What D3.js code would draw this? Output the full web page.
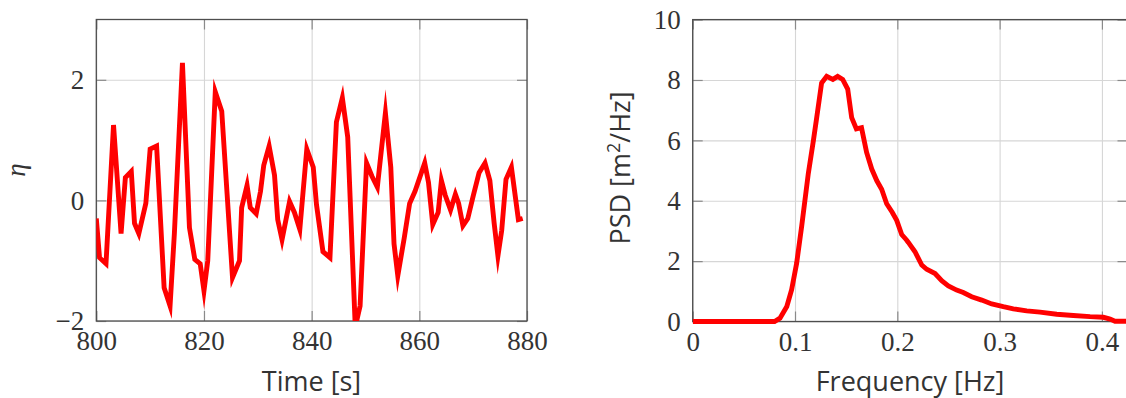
<!DOCTYPE html>
<html>
<head>
<meta charset="utf-8">
<script src="https://cdn.jsdelivr.net/npm/d3@7"></script>
<style>
  body { margin: 0; background: #fff; }
  svg { display: block; }
  .tick text { font-family: "Liberation Serif", "DejaVu Serif", serif; font-size: 27px; fill: #333; }
  .ticks .tick line { stroke: #8a8a8a; stroke-width: 1.2px; }
  .grid .tick line { stroke: #d6d6d6; stroke-width: 1.1px; }
  .grid path, .ticks path { display: none; }
  .label { font-family: "Open Sans", "Noto Sans", sans-serif; font-size: 27px; fill: #333; }
</style>
</head>
<body>
<svg id="chart" width="1126" height="398"></svg>
<script>
// Surface elevation record (time in s, elevation eta)
const timeS = [
  800.0, 800.6, 801.8, 803.2, 804.6, 805.4, 806.5, 807.1, 807.9, 809.2,
  810.0, 811.2, 812.6, 813.7, 814.5, 816.0, 817.3, 818.3, 819.3, 820.0,
  820.7, 822.1, 823.3, 824.3, 825.3, 826.6, 827.0, 828.0, 828.6, 829.7,
  830.5, 831.1, 832.1, 833.1, 833.7, 834.5, 835.9, 836.8, 837.8, 839.1,
  840.3, 840.9, 842.1, 843.4, 844.6, 845.7, 846.7, 848.1, 849.0, 850.2,
  851.2, 852.2, 853.7, 854.7, 855.3, 856.0, 857.2, 858.2, 859.2, 861.0,
  861.7, 862.5, 863.5, 864.1, 864.8, 865.8, 866.7, 867.3, 868.1, 869.0,
  870.0, 871.1, 872.2, 873.1, 873.9, 874.6, 875.3, 876.1, 877.1, 878.4,
  879.2
];
const eta = [
  -0.30, -0.95, -1.05, 1.25, -0.55, 0.38, 0.48, -0.38, -0.55, -0.05,
  0.85, 0.90, -1.45, -1.75, -0.55, 2.28, -0.45, -0.98, -1.05, -1.50,
  -1.00, 1.80, 1.48, 0.10, -1.28, -1.00, -0.12, 0.25, -0.12, -0.22,
  0.15, 0.58, 0.90, 0.42, -0.32, -0.65, -0.02, -0.20, -0.48, 0.85,
  0.55, -0.07, -0.85, -0.95, 1.30, 1.70, 1.05, -2.10, -1.75, 0.62,
  0.40, 0.22, 1.45, 0.55, -0.72, -1.25, -0.62, -0.05, 0.15, 0.62,
  0.30, -0.40, -0.20, 0.33, 0.09, -0.16, 0.10, -0.05, -0.42, -0.30,
  0.07, 0.46, 0.62, 0.33, -0.38, -0.92, -0.50, 0.35, 0.55, -0.32,
  -0.30
];

// Power spectral density (frequency in Hz, PSD in m^2/Hz)
const freqHz = [
  0, 0.080, 0.0853, 0.092, 0.0967, 0.1016, 0.1065, 0.113, 0.118, 0.121,
  0.126, 0.131, 0.137, 0.1417, 0.1466, 0.1515, 0.1554, 0.160, 0.165, 0.170,
  0.175, 0.180, 0.1847, 0.1896, 0.195, 0.1994, 0.2043, 0.209, 0.2108, 0.2173,
  0.2239, 0.2287, 0.2369, 0.2434, 0.2499, 0.258, 0.2645, 0.2727, 0.2825, 0.2923,
  0.3036, 0.3134, 0.3265, 0.3395, 0.3558, 0.372, 0.3884, 0.4014, 0.408, 0.4128,
  0.44
];
const psd = [
  0, 0, 0.11, 0.50, 1.05, 1.93, 3.15, 4.90, 6.00, 6.70,
  7.90, 8.12, 8.02, 8.12, 8.02, 7.70, 6.75, 6.38, 6.42, 5.60,
  5.05, 4.66, 4.38, 3.90, 3.62, 3.35, 2.88, 2.70, 2.62, 2.31,
  1.87, 1.73, 1.59, 1.35, 1.18, 1.04, 0.96, 0.82, 0.71, 0.58,
  0.49, 0.42, 0.35, 0.31, 0.24, 0.20, 0.16, 0.14, 0.08, 0.01,
  0
];

const timeTicks = [800, 820, 840, 860, 880];
const etaTicks = [-2, 0, 2];
const freqTicks = [0, 0.1, 0.2, 0.3, 0.4];
const psdTicks = [0, 2, 4, 6, 8, 10];

const svg = d3.select("#chart");

function panel(o) {
  const x = d3.scaleLinear().domain(o.xDomain).range([o.x0, o.x1]);
  const y = d3.scaleLinear().domain(o.yDomain).range([o.y1, o.y0]);
  const w = o.x1 - o.x0, h = o.y1 - o.y0;
  const g = svg.append("g");

  // grid
  g.append("g").attr("class", "grid").attr("transform", `translate(0,${o.y1})`)
    .call(d3.axisBottom(x).tickValues(o.xTicks).tickSize(-h).tickFormat(""));
  g.append("g").attr("class", "grid").attr("transform", `translate(${o.x0},0)`)
    .call(d3.axisLeft(y).tickValues(o.yTicks).tickSize(-w).tickFormat(""));

  // inward ticks on all four sides
  g.append("g").attr("class", "ticks").attr("transform", `translate(0,${o.y1})`)
    .call(d3.axisBottom(x).tickValues(o.xTicks).tickSizeInner(-10).tickSizeOuter(0)
      .tickPadding(10).tickFormat(o.xFmt));
  g.append("g").attr("class", "ticks").attr("transform", `translate(0,${o.y0})`)
    .call(d3.axisTop(x).tickValues(o.xTicks).tickSizeInner(-10).tickSizeOuter(0).tickFormat(""));
  g.append("g").attr("class", "ticks").attr("transform", `translate(${o.x0},0)`)
    .call(d3.axisLeft(y).tickValues(o.yTicks).tickSizeInner(-10).tickSizeOuter(0)
      .tickPadding(12).tickFormat(o.yFmt));
  g.append("g").attr("class", "ticks").attr("transform", `translate(${o.x1},0)`)
    .call(d3.axisRight(y).tickValues(o.yTicks).tickSizeInner(-10).tickSizeOuter(0).tickFormat(""));

  // frame
  g.append("rect").attr("x", o.x0).attr("y", o.y0).attr("width", w).attr("height", h)
    .attr("fill", "none").attr("stroke", "#4d4d4d").attr("stroke-width", 1.3);

  // data line
  const clipId = "clip" + o.id;
  svg.append("clipPath").attr("id", clipId).append("rect")
    .attr("x", o.x0).attr("y", o.y0).attr("width", w).attr("height", h + o.clipPad);
  const line = d3.line().x(i => x(o.xs[i])).y(i => y(o.ys[i]));
  g.append("path").attr("clip-path", `url(#${clipId})`)
    .attr("d", line(d3.range(o.xs.length)))
    .attr("fill", "none").attr("stroke", "#ff0000").attr("stroke-width", 4.9)
    .attr("stroke-linejoin", "miter").attr("stroke-miterlimit", 10);
  return { x, y };
}

panel({
  id: "a", x0: 96.3, x1: 527, y0: 19.5, y1: 321,
  xDomain: [800, 880], yDomain: [-2, 3],
  xTicks: timeTicks, yTicks: etaTicks,
  xFmt: d3.format("d"), yFmt: d3.format("d"),
  xs: timeS, ys: eta, clipPad: 0
});

panel({
  id: "b", x0: 692.7, x1: 1127.5, y0: 19.6, y1: 321.5,
  xDomain: [0, 0.425], yDomain: [0, 10],
  xTicks: freqTicks, yTicks: psdTicks,
  xFmt: d => d === 0 ? "0" : d3.format(".1f")(d), yFmt: d3.format("d"),
  xs: freqHz, ys: psd, clipPad: 2.5
});

// axis titles
svg.append("text").attr("class", "label").attr("x", 311.5).attr("y", 391)
  .attr("text-anchor", "middle").text("Time [s]");
svg.append("text").attr("class", "label").attr("x", 910).attr("y", 391)
  .attr("text-anchor", "middle").text("Frequency [Hz]");
svg.append("text").attr("class", "label")
  .attr("transform", "translate(630,168) rotate(-90)")
  .attr("text-anchor", "middle")
  .text("PSD [m")
  .call(t => {
    t.append("tspan").attr("font-size", "18px").attr("dy", "-10").text("2");
    t.append("tspan").attr("dy", "10").text("/Hz]");
  });
svg.append("text")
  .attr("transform", "translate(25,170) rotate(-90)")
  .attr("text-anchor", "middle")
  .attr("font-family", "Liberation Serif, DejaVu Serif, serif")
  .attr("font-style", "italic").attr("font-size", "27px").attr("fill", "#333")
  .text("η");
</script>
</body>
</html>
